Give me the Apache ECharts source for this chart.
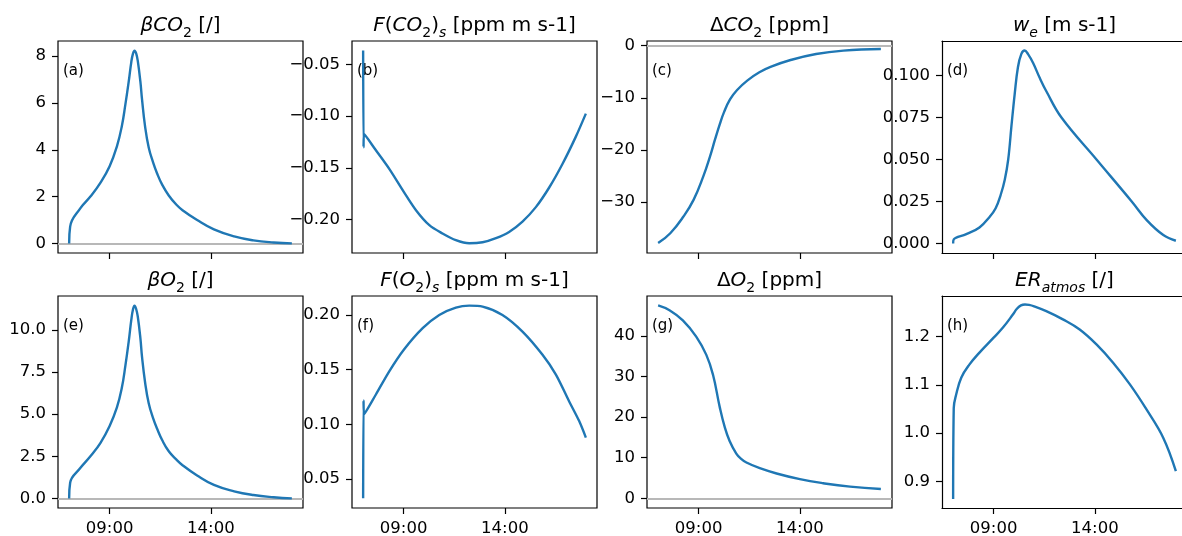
<!DOCTYPE html>
<html>
<head>
<meta charset="utf-8">
<script src="https://cdn.jsdelivr.net/npm/echarts@6/dist/echarts.min.js"></script>
<style>
html, body { margin: 0; padding: 0; background: #fff; }
#chart { width: 1182px; height: 536px; }
</style>
</head>
<body>
<div id="chart"></div>
<script>
// times are decimal hours of the day
var timeBetaCO2 = [7.0, 7.05, 7.55, 8.05, 8.55, 9.0, 9.36, 9.6, 9.78, 9.94, 10.07, 10.15, 10.23, 10.31, 10.39, 10.52, 10.6, 10.75, 10.93, 11.15, 11.34, 11.6, 11.92, 12.3, 12.6, 13.32, 14.15, 15.15, 16.1, 17.1, 18.0];
var betaCO2 = [0, 0.72, 1.5, 2.0, 2.6, 3.3, 4.15, 5.0, 5.95, 6.9, 7.75, 8.1, 8.24, 8.12, 7.8, 6.9, 6.15, 5.0, 4.1, 3.45, 3.0, 2.5, 2.05, 1.65, 1.42, 1.0, 0.6, 0.3, 0.13, 0.04, 0.0];

var timeFluxCO2 = [7.0, 7.02, 7.04, 7.63, 8.29, 9.0, 9.61, 10.27, 10.92, 11.58, 12.24, 12.9, 13.56, 14.21, 14.87, 15.53, 16.19, 16.85, 17.5, 18.0];
var fluxCO2 = [-0.0365, -0.130, -0.117, -0.133, -0.151, -0.173, -0.191, -0.2055, -0.2135, -0.220, -0.223, -0.222, -0.218, -0.212, -0.202, -0.188, -0.169, -0.146, -0.12, -0.0975];

var timeDeltaCO2 = [7.0, 7.6, 8.25, 8.75, 9.23, 9.56, 9.81, 10.05, 10.25, 10.55, 10.9, 11.4, 12.0, 12.6, 13.5, 14.8, 16.15, 18.0];
var deltaCO2 = [-37.9, -36.0, -32.8, -29.6, -25.1, -21.3, -18.0, -15.0, -12.8, -10.3, -8.5, -6.7, -5.1, -4.0, -2.8, -1.6, -0.95, -0.64];

var timeWe = [7.0, 7.03, 7.65, 8.3, 8.8, 9.1, 9.35, 9.55, 9.72, 9.88, 10.04, 10.2, 10.37, 10.53, 10.7, 10.95, 11.28, 11.61, 12.35, 14.08, 15.82, 16.56, 17.38, 18.0];
var we = [0.0, 0.0024, 0.0055, 0.0095, 0.0158, 0.021, 0.029, 0.038, 0.050, 0.070, 0.089, 0.105, 0.1129, 0.1149, 0.1128, 0.1075, 0.0985, 0.0905, 0.075, 0.050, 0.025, 0.0139, 0.005, 0.0016];

var timeBetaO2 = [7.0, 7.05, 7.55, 8.05, 8.55, 9.0, 9.36, 9.6, 9.78, 9.94, 10.07, 10.15, 10.23, 10.31, 10.39, 10.52, 10.6, 10.75, 10.93, 11.15, 11.34, 11.6, 11.92, 12.3, 12.6, 13.32, 14.15, 15.15, 16.1, 17.1, 18.0];
var betaO2 = [0, 0.93, 1.8, 2.5, 3.3, 4.3, 5.4, 6.55, 7.9, 9.3, 10.6, 11.2, 11.45, 11.25, 10.8, 9.5, 8.4, 6.9, 5.65, 4.75, 4.15, 3.45, 2.8, 2.3, 1.97, 1.36, 0.8, 0.42, 0.2, 0.07, 0.0];

var timeFluxO2 = [7.0, 7.02, 7.04, 7.63, 8.29, 9.0, 9.94, 10.76, 11.58, 12.24, 12.9, 13.88, 14.87, 15.86, 16.52, 17.17, 17.67, 18.0];
var fluxO2 = [0.0324, 0.1218, 0.109, 0.1273, 0.1485, 0.168, 0.1879, 0.200, 0.2067, 0.2085, 0.2076, 0.200, 0.1848, 0.1636, 0.1455, 0.1212, 0.103, 0.0879];

var timeDeltaO2 = [7.0, 7.56, 8.22, 8.88, 9.38, 9.71, 10.04, 10.29, 10.53, 10.86, 11.1, 11.36, 12.02, 12.85, 14.0, 15.15, 16.48, 18.0];
var deltaO2 = [47.5, 46.3, 43.8, 39.8, 35.3, 30.4, 22.5, 17.5, 14.1, 11.0, 9.7, 8.8, 7.4, 6.1, 4.7, 3.7, 2.85, 2.28];

var timeER = [7.0, 7.03, 7.15, 7.4, 7.8, 8.3, 9.0, 9.46, 9.95, 10.15, 10.35, 10.55, 10.75, 11.0, 11.6, 12.42, 13.25, 14.08, 14.9, 15.73, 16.55, 17.38, 18.0];
var erAtmos = [0.863, 1.052, 1.08, 1.115, 1.142, 1.167, 1.198, 1.219, 1.246, 1.258, 1.265, 1.267, 1.266, 1.263, 1.253, 1.236, 1.215, 1.184, 1.146, 1.101, 1.049, 0.99, 0.921];

var timeTicks = [9, 14];
var ticksBetaCO2 = [0, 2, 4, 6, 8];
var ticksFluxCO2 = [-0.20, -0.15, -0.10, -0.05];
var ticksDeltaCO2 = [-30, -20, -10, 0];
var ticksWe = [0, 0.025, 0.05, 0.075, 0.1];
var ticksBetaO2 = [0, 2.5, 5, 7.5, 10];
var ticksFluxO2 = [0.05, 0.10, 0.15, 0.20];
var ticksDeltaO2 = [0, 10, 20, 30, 40];
var ticksER = [0.9, 1.0, 1.1, 1.2];

var panels = [
    {title: '{it|βCO}{sub|2}{n| [/]}', tag: '(a)', t: timeBetaCO2, v: betaCO2, min: -0.41, max: 8.65, ticks: ticksBetaCO2, dec: 0, zero: true, smooth: 0.45},
    {title: '{it|F}{n|(}{it|CO}{sub|2}{n|)}{subit|s}{n| [ppm m s-1]}', tag: '(b)', t: timeFluxCO2, v: fluxCO2, min: -0.2324, max: -0.0272, ticks: ticksFluxCO2, dec: 2, smooth: 0.3},
    {title: '{n|Δ}{it|CO}{sub|2}{n| [ppm]}', tag: '(c)', t: timeDeltaCO2, v: deltaCO2, min: -39.8, max: 0.9, ticks: ticksDeltaCO2, dec: 0, zero: true, smooth: 0.45},
    {title: '{it|w}{subit|e}{n| [m s-1]}', tag: '(d)', t: timeWe, v: we, min: -0.0057, max: 0.1206, ticks: ticksWe, dec: 3, smooth: 0.4},
    {title: '{it|βO}{sub|2}{n| [/]}', tag: '(e)', t: timeBetaO2, v: betaO2, min: -0.57, max: 12.02, ticks: ticksBetaO2, dec: 1, zero: true, smooth: 0.45},
    {title: '{it|F}{n|(}{it|O}{sub|2}{n|)}{subit|s}{n| [ppm m s-1]}', tag: '(f)', t: timeFluxO2, v: fluxO2, min: 0.0236, max: 0.2173, ticks: ticksFluxO2, dec: 2, smooth: 0.3},
    {title: '{n|Δ}{it|O}{sub|2}{n| [ppm]}', tag: '(g)', t: timeDeltaO2, v: deltaO2, min: -2.4, max: 49.8, ticks: ticksDeltaO2, dec: 0, zero: true, smooth: 0.45},
    {title: '{it|ER}{subit|atmos}{n| [/]}', tag: '(h)', t: timeER, v: erAtmos, min: 0.8445, max: 1.2845, ticks: ticksER, dec: 1, smooth: 0.4}
];

var colLeft = [58, 352, 647, 942];
var rowTop = [41, 296];
var boxW = 245, boxH = 212;
var font = 'DejaVu Sans';
var frame = {color: '#000', width: 1.2};

function hourLabel(h) {
    var hh = Math.floor(h);
    var mm = Math.round((h - hh) * 60);
    return (hh < 10 ? '0' : '') + hh + ':' + (mm < 10 ? '0' : '') + mm;
}

var titleRich = {
    n: {fontFamily: font, fontSize: 20, lineHeight: 28, verticalAlign: 'middle', color: '#000'},
    it: {fontFamily: font, fontSize: 20, lineHeight: 28, verticalAlign: 'middle', fontStyle: 'italic', color: '#000'},
    sub: {fontFamily: font, fontSize: 14, lineHeight: 14, verticalAlign: 'bottom', color: '#000'},
    subit: {fontFamily: font, fontSize: 14, lineHeight: 14, verticalAlign: 'bottom', fontStyle: 'italic', color: '#000'}
};

var option = {
    animation: false,
    backgroundColor: '#fff',
    grid: [], xAxis: [], yAxis: [], series: [], graphic: []
};

panels.forEach(function (p, i) {
    var left = colLeft[i % 4];
    var top = rowTop[Math.floor(i / 4)];
    var bottomRow = i >= 4;
    // last column runs off the right edge of the picture: no right border there
    var openRight = (i % 4) === 3;

    option.grid.push({
        left: left, top: top, width: boxW, height: boxH,
        containLabel: false, outerBoundsMode: 'none',
        show: !openRight, borderColor: '#000', borderWidth: 1.2, backgroundColor: 'transparent'
    });
    option.xAxis.push({
        type: 'value', gridIndex: i, min: 6.45, max: 18.55,
        axisLine: {show: openRight, onZero: false, lineStyle: frame},
        splitLine: {show: false},
        axisTick: {show: true, inside: false, length: 6, customValues: timeTicks, lineStyle: frame},
        axisLabel: {show: bottomRow, customValues: timeTicks, margin: 12, fontFamily: font, fontSize: 16.5, color: '#000', formatter: hourLabel}
    });
    option.yAxis.push({
        type: 'value', gridIndex: i, min: p.min, max: p.max,
        axisLine: {show: openRight, onZero: false, lineStyle: frame},
        splitLine: {show: false},
        axisTick: {show: true, inside: false, length: 6, customValues: p.ticks, lineStyle: frame},
        axisLabel: {
            customValues: p.ticks, margin: 12, fontFamily: font, fontSize: 16.5, color: '#000',
            formatter: function (v) { return v.toFixed(p.dec).replace('-', '\u2212'); }
        }
    });

    var serie = {
        type: 'line', xAxisIndex: i, yAxisIndex: i,
        data: p.t.map(function (t, k) { return [t, p.v[k]]; }),
        showSymbol: false, smooth: p.smooth,
        lineStyle: {color: '#1f77b4', width: 2.4},
        itemStyle: {color: '#1f77b4'},
        emphasis: {disabled: true},
        clip: true
    };
    if (p.zero) {
        serie.markLine = {
            silent: true, symbol: ['none', 'none'], z: 1,
            label: {show: false},
            lineStyle: {color: '#b8b8b8', width: 2, type: 'solid'},
            emphasis: {disabled: true},
            data: [{yAxis: 0}]
        };
    }
    option.series.push(serie);

    option.graphic.push({
        type: 'text', silent: true,
        style: {
            x: left + boxW / 2, y: top - 15,
            text: p.title, rich: titleRich,
            align: 'center', verticalAlign: 'middle'
        }
    });
    option.graphic.push({
        type: 'text', silent: true,
        style: {
            x: left + 5, y: top + 30,
            text: p.tag, fill: '#000',
            font: '15px "' + font + '"',
            align: 'left', verticalAlign: 'middle'
        }
    });
});

// top border line for the open-right panels
[3, 7].forEach(function (i) {
    option.xAxis.push({
        type: 'value', gridIndex: i, position: 'top', min: 6.45, max: 18.55,
        axisLine: {show: true, onZero: false, lineStyle: frame},
        axisTick: {show: false}, axisLabel: {show: false}, splitLine: {show: false}
    });
});

var myChart = echarts.init(document.getElementById('chart'));
myChart.setOption(option);
</script>
</body>
</html>
